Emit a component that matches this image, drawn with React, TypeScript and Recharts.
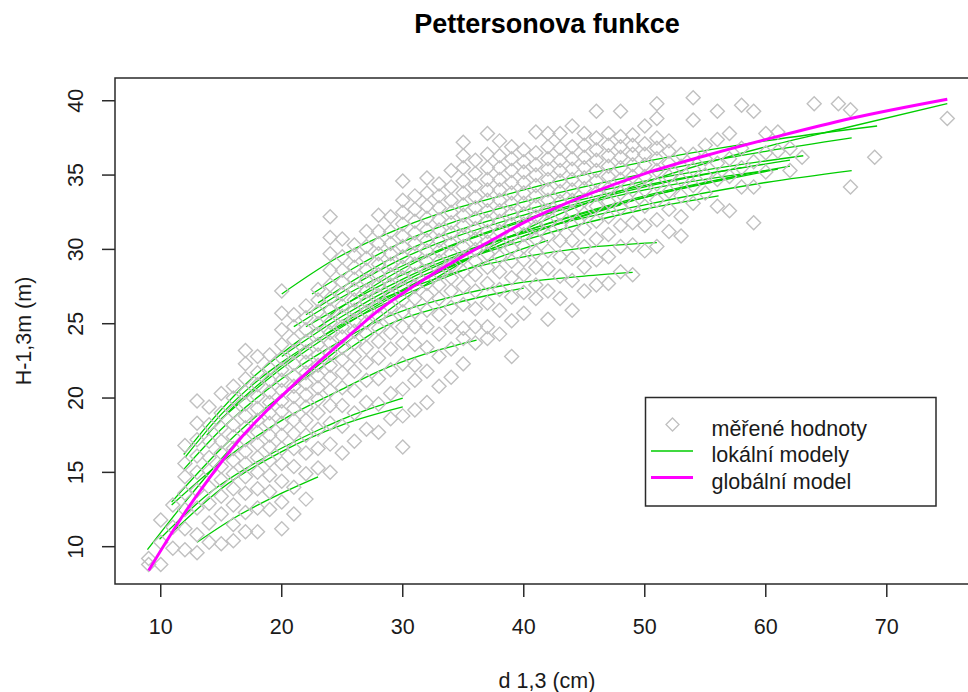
import React from "react";
import { ComposedChart, Scatter, Line, XAxis, YAxis, ReferenceArea } from "recharts";

type Pair = [number, number];
type Column = [number, number[]]; // diameter (cm), measured heights (m)

const FONT = '"Liberation Sans", Arial, Helvetica, sans-serif';
const TEXT_COLOR = "#1a1a1a";
const FRAME_COLOR = "#2a2a2a";
const POINT_COLOR = "#c0c0c0";
const LOCAL_COLOR = "#00cd00";
const GLOBAL_COLOR = "#ff00ff";

// frame of the plotting region in px, and the value range it spans
const CHART_W = 990;
const CHART_H = 692;
const PLOT_LEFT = 115;
const PLOT_TOP = 78;
const PLOT_RIGHT = 979;
const PLOT_BOTTOM = 584;
const Y_AXIS_W = 60;
const X_AXIS_H = 30;
const X_DOMAIN: [number, number] = [6.22, 77.62];
const Y_DOMAIN: [number, number] = [7.49, 41.53];

const xTicks = [10, 20, 30, 40, 50, 60, 70];
const yTicks = [10, 15, 20, 25, 30, 35, 40];

const title = "Pettersonova funkce";
const xLabel = "d 1,3 (cm)";
const yLabel = "H-1,3m (m)";
const legendLabels = ["měřené hodnoty", "lokální modely", "globální model"];

// measured trees, grouped by breast-height diameter
const measured09to19: Column[] = [
  [9, [8.8, 9.2]],
  [10, [8.8, 10.3, 11.8]],
  [11, [9.9, 11.3, 12.8]],
  [12, [9.8, 11.2, 12.5, 13.6, 14.7, 15.6, 16.8]],
  [13, [9.6, 10.8, 12.6, 13.8, 15.0, 16.1, 17.2, 18.3, 19.8]],
  [14, [10.3, 11.6, 12.9, 14.0, 15.1, 16.0, 17.1, 18.2, 19.4]],
  [15, [10.2, 12.2, 13.4, 14.5, 15.4, 16.3, 17.1, 18.0, 19.0, 20.3]],
  [16, [10.4, 11.5, 12.8, 13.9, 14.9, 15.8, 16.6, 17.4, 18.2, 19.1, 20.0, 20.8]],
  [17, [11.0, 12.3, 13.6, 14.7, 15.6, 16.4, 17.2, 18.0, 18.8, 19.6, 20.4, 21.3, 22.3, 23.2]],
  [18, [11.0, 12.6, 13.9, 15.0, 16.0, 16.9, 17.7, 18.5, 19.3, 20.1, 20.9, 21.7, 22.8]],
  [19, [12.5, 13.7, 14.8, 15.8, 16.7, 17.5, 18.3, 19.0, 19.7, 20.4, 21.2, 22.0, 22.9]],
];

const measured20to29: Column[] = [
  [20, [11.2, 13.0, 14.4, 15.6, 16.6, 17.5, 18.3, 19.1, 19.8, 20.5, 21.2, 21.9, 22.7, 23.6, 24.6, 25.7, 27.2]],
  [21, [12.2, 14.0, 15.4, 16.6, 17.6, 18.5, 19.3, 20.1, 20.8, 21.5, 22.3, 23.1, 23.9, 24.8, 25.6]],
  [22, [13.2, 14.9, 16.3, 17.5, 18.5, 19.4, 20.2, 21.0, 21.7, 22.4, 23.1, 23.8, 24.6, 25.4, 26.2]],
  [23, [15.3, 16.6, 17.9, 19.0, 19.9, 20.7, 21.5, 22.2, 22.9, 23.6, 24.3, 25.0, 25.8, 26.6, 27.3]],
  [24, [15.0, 16.9, 18.3, 19.5, 20.5, 21.4, 22.2, 23.0, 23.7, 24.4, 25.1, 25.9, 26.7, 27.6, 28.6, 29.7, 30.8, 32.2]],
  [25, [16.3, 18.1, 19.5, 20.7, 21.7, 22.6, 23.4, 24.1, 24.8, 25.5, 26.2, 27.0, 27.8, 28.6, 29.5, 30.7]],
  [26, [17.1, 19.0, 20.5, 21.8, 22.8, 23.7, 24.5, 25.2, 25.9, 26.6, 27.3, 28.0, 28.8, 29.6, 30.3]],
  [27, [17.9, 19.7, 21.2, 22.4, 23.4, 24.3, 25.1, 25.8, 26.5, 27.2, 27.9, 28.6, 29.4, 30.2, 31.2]],
  [28, [17.7, 19.6, 21.3, 22.7, 23.8, 24.7, 25.5, 26.2, 26.9, 27.6, 28.3, 29.0, 29.7, 30.4, 31.2, 32.3]],
  [29, [18.6, 20.3, 21.9, 23.3, 24.4, 25.3, 26.1, 26.9, 27.6, 28.3, 29.0, 29.7, 30.4, 31.2, 32.2]],
];

const measured30to39: Column[] = [
  [30, [16.7, 18.8, 20.6, 22.3, 23.7, 24.8, 25.8, 26.6, 27.4, 28.1, 28.8, 29.5, 30.2, 30.9, 31.7, 32.5, 33.3, 34.6]],
  [31, [19.2, 21.2, 22.2, 23.6, 24.8, 25.8, 26.7, 27.5, 28.3, 29.0, 29.7, 30.4, 31.1, 31.9, 32.7, 33.6]],
  [32, [19.7, 21.8, 23.4, 24.8, 25.9, 26.9, 27.7, 28.5, 29.2, 29.9, 30.6, 31.3, 32.1, 32.9, 33.8, 34.8]],
  [33, [20.8, 22.8, 24.3, 25.6, 26.7, 27.6, 28.4, 29.2, 29.9, 30.6, 31.3, 32.0, 32.8, 33.6, 34.4]],
  [34, [21.4, 23.3, 24.8, 26.1, 27.2, 28.1, 28.9, 29.7, 30.4, 31.1, 31.8, 32.5, 33.3, 34.2, 35.3]],
  [35, [22.3, 24.0, 24.7, 26.3, 27.5, 28.5, 29.4, 30.2, 30.9, 31.6, 32.3, 33.0, 33.8, 34.6, 35.5, 36.3, 37.2]],
  [36, [23.7, 24.8, 26.0, 27.2, 28.3, 29.2, 30.0, 30.7, 31.4, 32.1, 32.8, 33.5, 34.3, 35.1, 36.0]],
  [37, [24.0, 24.8, 26.4, 27.7, 28.8, 29.7, 30.5, 31.2, 31.9, 32.6, 33.3, 34.0, 34.7, 35.5, 36.4, 37.8]],
  [38, [24.3, 25.9, 27.3, 28.5, 29.5, 30.4, 31.2, 31.9, 32.6, 33.3, 34.0, 34.7, 35.5, 36.3, 37.3]],
  [39, [22.8, 25.2, 26.8, 28.1, 29.2, 30.1, 30.9, 31.7, 32.4, 33.1, 33.8, 34.5, 35.3, 36.1, 36.9]],
];

const measured40to49: Column[] = [
  [40, [25.7, 27.1, 28.3, 29.3, 30.2, 31.0, 31.7, 32.4, 33.1, 33.8, 34.5, 35.2, 35.9, 36.7]],
  [41, [26.7, 27.6, 28.8, 29.8, 30.7, 31.5, 32.2, 32.9, 33.6, 34.3, 35.0, 35.7, 36.5, 37.9]],
  [42, [25.3, 27.2, 28.7, 29.9, 30.9, 31.8, 32.6, 33.3, 34.0, 34.7, 35.4, 36.1, 36.9, 37.8]],
  [43, [26.7, 28.2, 29.5, 30.6, 31.6, 32.4, 33.2, 33.9, 34.6, 35.3, 36.0, 36.8, 37.8]],
  [44, [25.9, 27.9, 29.4, 30.6, 31.6, 32.5, 33.3, 34.0, 34.7, 35.4, 36.1, 36.9, 38.3]],
  [45, [27.2, 28.8, 30.2, 31.4, 32.4, 33.3, 34.1, 34.8, 35.5, 36.2, 37.0, 37.8]],
  [46, [27.6, 29.3, 30.7, 31.9, 32.9, 33.8, 34.6, 35.3, 36.0, 36.7, 37.5, 39.3]],
  [47, [27.7, 29.5, 31.0, 32.2, 33.2, 34.1, 34.9, 35.6, 36.3, 37.0, 37.8]],
  [48, [28.5, 30.2, 31.6, 32.8, 33.8, 34.7, 35.5, 36.2, 36.9, 37.6, 39.3]],
  [49, [28.3, 30.3, 31.8, 33.0, 34.0, 34.9, 35.7, 36.4, 37.0, 37.7]],
];

const measured50to75: Column[] = [
  [50, [29.9, 31.6, 32.9, 34.0, 34.9, 35.7, 36.4, 37.1, 38.3]],
  [51, [30.2, 32.0, 33.3, 34.4, 35.3, 36.1, 36.8, 37.5, 38.8, 39.8]],
  [52, [31.2, 32.7, 33.9, 34.9, 35.8, 36.6, 37.3]],
  [53, [30.9, 32.2, 33.6, 34.7, 35.6, 36.4]],
  [54, [33.1, 34.3, 35.4, 36.4, 38.7, 40.2]],
  [55, [33.8, 35.0, 36.1, 37.0]],
  [56, [32.9, 34.7, 35.8, 37.4, 39.3]],
  [57, [32.6, 34.9, 36.1, 37.8]],
  [58, [34.2, 35.5, 36.8, 39.7]],
  [59, [31.8, 34.2, 35.9, 39.3]],
  [60, [35.2, 36.5, 37.8]],
  [61, [36.6, 37.9]],
  [62, [35.3, 36.8]],
  [63, [36.2]],
  [64, [39.8]],
  [66, [39.8]],
  [67, [34.2, 39.4]],
  [69, [36.2]],
  [75, [38.8]],
];

// fitted Petterson curves of the individual stands
const model01: Pair[] = [[8.9, 9.8], [12, 13.0], [15, 15.9], [20, 20.1], [25, 23.5], [30, 26.6], [40, 31.3], [50, 34.5], [60, 36.9], [66.7, 38.2], [75, 39.8]];
const model02: Pair[] = [[20, 27.0], [24.3, 29.3], [30, 31.5], [40, 34.0], [50, 35.9], [60, 37.3], [69.2, 38.3]];
const model03: Pair[] = [[22.5, 27.0], [26.5, 29.0], [30, 30.5], [40, 33.2], [50, 35.1], [60, 36.6], [67.1, 37.5]];
const model04: Pair[] = [[23, 26.4], [30, 29.8], [40, 32.6], [50, 34.6], [63.1, 36.3]];
const model05: Pair[] = [[22, 25.6], [30, 29.4], [40, 32.3], [50, 34.3], [62, 36.0]];
const model06: Pair[] = [[24, 25.6], [30, 28.7], [40, 31.9], [50, 34.0], [60, 35.3]];
const model07: Pair[] = [[22, 24.8], [30, 28.3], [40, 31.1], [50, 33.0], [60, 34.5], [67.1, 35.3]];
const model08: Pair[] = [[25, 25.2], [30, 27.6], [40, 30.6], [50, 32.7], [56.1, 33.6]];
const model09: Pair[] = [[28, 26.6], [35, 28.6], [40, 29.5], [45, 30.1], [51, 30.45]];
const model10: Pair[] = [[11.9, 16.2], [14, 18.3], [17.1, 21.0], [20, 23.0], [25, 25.8], [30, 28.0], [40, 31.2], [50, 33.5], [61, 35.4]];
const model11: Pair[] = [[12, 16.0], [15, 18.9], [18.2, 21.3], [20, 22.4], [25, 24.9], [30, 26.9], [36, 28.9], [42, 30.6]];
const model12: Pair[] = [[13.8, 17.5], [16, 19.4], [18.2, 21.0], [22, 23.4], [30, 27.3], [40, 30.9], [48, 33.0]];
const model13: Pair[] = [[15, 18.6], [20, 22.0], [25, 24.8], [30, 27.2], [40, 30.9], [50, 33.5], [58, 35.0]];
const model14: Pair[] = [[20, 22.8], [25, 25.5], [30, 27.8], [40, 31.2], [50, 33.6], [62, 35.6]];
const model15: Pair[] = [[21, 24.8], [25, 26.8], [30, 28.9], [40, 32.0], [50, 34.2], [58, 35.5]];
const model16: Pair[] = [[10.9, 12.8], [15, 15.7], [20, 18.5], [25, 20.6], [28, 21.8], [32, 23.0], [36.1, 23.9]];
const model17: Pair[] = [[9.9, 10.5], [14, 13.6], [18.8, 16.1], [22.9, 17.8], [26, 18.9], [30, 20.0]];
const model18: Pair[] = [[11, 11.0], [15, 13.9], [20, 16.4], [25, 18.2], [30, 19.4]];
const model19: Pair[] = [[13, 10.3], [16, 11.9], [20, 13.6], [23, 14.7]];
const model20: Pair[] = [[11.9, 15.2], [15, 17.9], [20, 21.3], [25, 23.9], [28, 25.2], [35, 27.0], [40, 27.8], [45, 28.2], [49, 28.45]];
const model21: Pair[] = [[10.9, 13.0], [15, 16.6], [20, 20.2], [25, 23.0], [28, 24.6], [34, 26.3], [40, 27.4]];

// the pooled model over all stands
const globalModel: Pair[] = [
  [9, 8.4], [12, 12.3], [14, 14.6], [16.5, 17.2], [19, 19.35], [21.4, 21.2], [25, 23.8], [28, 25.9],
  [32, 28.1], [35, 29.55], [37.2, 30.55], [40, 31.8], [45, 33.6], [50, 35.1], [55, 36.3], [61, 37.6],
  [67, 38.8], [75, 40.1],
];

const localModels = [
  model01, model02, model03, model04, model05, model06, model07, model08, model09, model10, model11,
  model12, model13, model14, model15, model16, model17, model18, model19, model20, model21,
];

const measuredPoints = [measured09to19, measured20to29, measured30to39, measured40to49, measured50to75]
  .flat()
  .flatMap(([d, heights]) => heights.map((h) => ({ d, h })));

const toRows = (pairs: Pair[]) => pairs.map(([d, h]) => ({ d, h }));

function Diamond(props: any) {
  const { cx, cy } = props;
  if (cx == null || cy == null) return null;
  const r = 7;
  return (
    <path
      d={`M${cx} ${cy - r}L${cx + r} ${cy}L${cx} ${cy + r}L${cx - r} ${cy}Z`}
      fill="none"
      stroke={POINT_COLOR}
      strokeWidth={1.4}
    />
  );
}

function XTick({ x, y, payload }: any) {
  return (
    <text x={x} y={y + 37} textAnchor="middle" fontSize={21.5} fill={TEXT_COLOR} fontFamily={FONT}>
      {payload.value}
    </text>
  );
}

function YTick({ x, y, payload }: any) {
  const bx = x - 19;
  return (
    <text
      x={bx}
      y={y}
      transform={`rotate(-90 ${bx} ${y})`}
      textAnchor="middle"
      fontSize={21.5}
      fill={TEXT_COLOR}
      fontFamily={FONT}
    >
      {payload.value}
    </text>
  );
}

function LegendBox() {
  const left = 645.5;
  const top = 397.5;
  const rows = [435.5, 462, 488.5];
  return (
    <g fontFamily={FONT} fontSize={21.5} fill={TEXT_COLOR}>
      <rect x={left} y={top} width={290.5} height={108.5} fill="#fff" stroke={FRAME_COLOR} strokeWidth={1.5} />
      <path
        d={`M672.5 ${rows[0] - 17.5}L679 ${rows[0] - 11}L672.5 ${rows[0] - 4.5}L666 ${rows[0] - 11}Z`}
        fill="none"
        stroke={POINT_COLOR}
        strokeWidth={1.3}
      />
      <line x1={651} x2={693} y1={rows[1] - 11} y2={rows[1] - 11} stroke={LOCAL_COLOR} strokeWidth={1.3} />
      <line x1={651} x2={693} y1={rows[2] - 11} y2={rows[2] - 11} stroke={GLOBAL_COLOR} strokeWidth={3} />
      {legendLabels.map((label, i) => (
        <text key={label} x={711.5} y={rows[i]}>
          {label}
        </text>
      ))}
    </g>
  );
}

export default function App() {
  const midX = (PLOT_LEFT + PLOT_RIGHT) / 2;
  const midY = (PLOT_TOP + PLOT_BOTTOM) / 2;
  return (
    <div
      style={{
        position: "absolute",
        left: 0,
        top: 0,
        width: 968,
        height: 692,
        overflow: "hidden",
        background: "#fff",
      }}
    >
      <ComposedChart
        width={CHART_W}
        height={CHART_H}
        margin={{
          top: PLOT_TOP,
          right: CHART_W - PLOT_RIGHT,
          bottom: CHART_H - PLOT_BOTTOM - X_AXIS_H,
          left: PLOT_LEFT - Y_AXIS_W,
        }}
      >
        <XAxis
          type="number"
          dataKey="d"
          domain={X_DOMAIN}
          allowDataOverflow
          ticks={xTicks}
          interval={0}
          height={X_AXIS_H}
          axisLine={false}
          tickLine={{ stroke: FRAME_COLOR, strokeWidth: 1.5 }}
          tickSize={13}
          tickMargin={0}
          tick={<XTick />}
        />
        <YAxis
          type="number"
          dataKey="h"
          domain={Y_DOMAIN}
          allowDataOverflow
          ticks={yTicks}
          interval={0}
          width={Y_AXIS_W}
          axisLine={false}
          tickLine={{ stroke: FRAME_COLOR, strokeWidth: 1.5 }}
          tickSize={13}
          tickMargin={0}
          tick={<YTick />}
        />
        <Scatter data={measuredPoints} dataKey="h" shape={<Diamond />} isAnimationActive={false} />
        {localModels.map((model, i) => (
          <Line
            key={i}
            data={toRows(model)}
            dataKey="h"
            type="monotone"
            stroke={LOCAL_COLOR}
            strokeWidth={1.3}
            dot={false}
            activeDot={false}
            isAnimationActive={false}
          />
        ))}
        {/* pooled curve goes above the stand curves */}
        <Line
          data={toRows(globalModel)}
          dataKey="h"
          type="monotone"
          stroke={GLOBAL_COLOR}
          strokeWidth={3}
          dot={false}
          activeDot={false}
          isAnimationActive={false}
          zIndex={1000}
        />
        <ReferenceArea
          x1={X_DOMAIN[0]}
          x2={X_DOMAIN[1]}
          y1={Y_DOMAIN[0]}
          y2={Y_DOMAIN[1]}
          fill="none"
          stroke={FRAME_COLOR}
          strokeWidth={1.5}
        />
      </ComposedChart>
      <svg
        width={968}
        height={692}
        style={{ position: "absolute", left: 0, top: 0, pointerEvents: "none" }}
      >
        <text
          x={midX}
          y={33}
          textAnchor="middle"
          fontFamily={FONT}
          fontSize={27}
          fontWeight="bold"
          fill="#000"
        >
          {title}
        </text>
        <text x={midX} y={688} textAnchor="middle" fontFamily={FONT} fontSize={21.5} fill={TEXT_COLOR}>
          {xLabel}
        </text>
        <text
          x={31}
          y={midY}
          transform={`rotate(-90 31 ${midY})`}
          textAnchor="middle"
          fontFamily={FONT}
          fontSize={21.5}
          fill={TEXT_COLOR}
        >
          {yLabel}
        </text>
        <LegendBox />
      </svg>
    </div>
  );
}
